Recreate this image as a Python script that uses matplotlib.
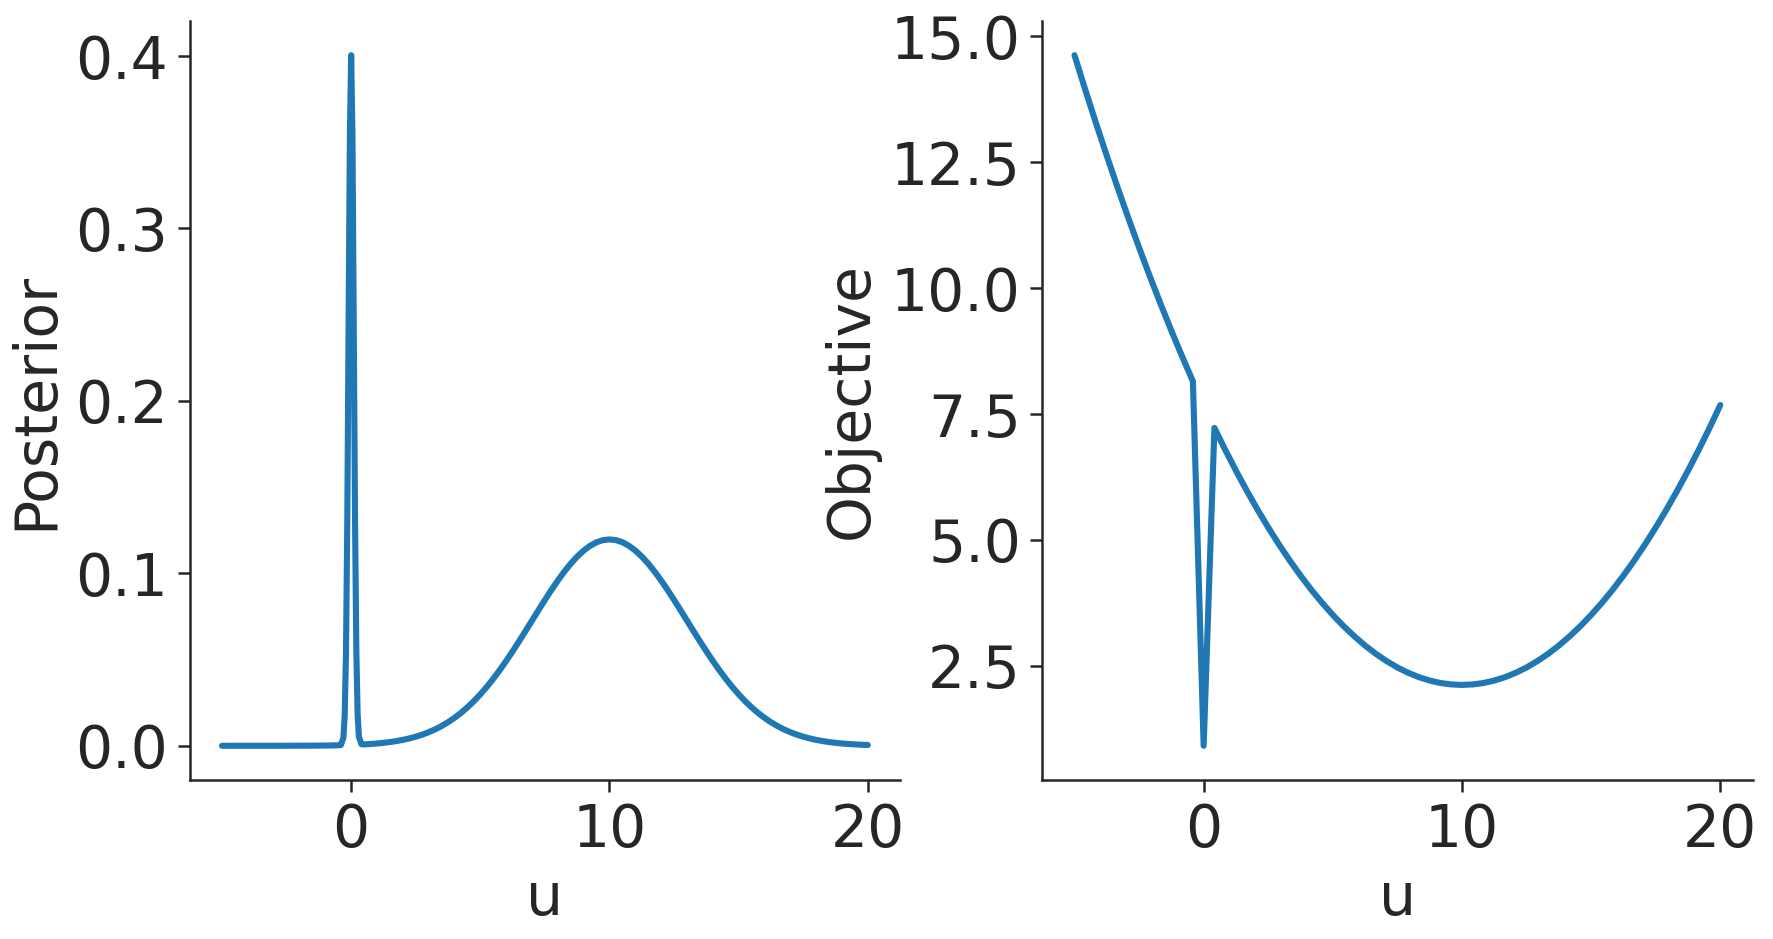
import matplotlib
matplotlib.use("Agg")
import matplotlib.pyplot as plt
import seaborn as sns

sns.set_theme(style="ticks")
plt.rcParams['font.family'] = ['DejaVu Sans']

# left panel: u grid (coarse on the flat tail, fine around the spike, 0.25 over the bump)
u_post = [-5.0, -4.5, -4.0, -3.5, -3.0, -2.5, -2.0, -1.5, -1.0, -0.5,
          -0.4, -0.3, -0.25, -0.2, -0.15, -0.1, -0.05, 0.0, 0.05, 0.1,
          0.15, 0.2, 0.25, 0.3, 0.4, 0.5, 0.75, 1.0, 1.25, 1.5,
          1.75, 2.0, 2.25, 2.5, 2.75, 3.0, 3.25, 3.5, 3.75, 4.0,
          4.25, 4.5, 4.75, 5.0, 5.25, 5.5, 5.75, 6.0, 6.25, 6.5,
          6.75, 7.0, 7.25, 7.5, 7.75, 8.0, 8.25, 8.5, 8.75, 9.0,
          9.25, 9.5, 9.75, 10.0, 10.25, 10.5, 10.75, 11.0, 11.25, 11.5,
          11.75, 12.0, 12.25, 12.5, 12.75, 13.0, 13.25, 13.5, 13.75, 14.0,
          14.25, 14.5, 14.75, 15.0, 15.25, 15.5, 15.75, 16.0, 16.25, 16.5,
          16.75, 17.0, 17.25, 17.5, 17.75, 18.0, 18.25, 18.5, 18.75, 19.0,
          19.25, 19.5, 19.75, 20.0]

posterior = [0.0, 0.000001, 0.000002, 0.000005, 0.00001, 0.00002, 0.00004, 0.000077, 0.000144, 0.00026,
             0.0004, 0.0047, 0.0179, 0.0544, 0.1302, 0.2429, 0.3533, 0.4005, 0.3537, 0.2433,
             0.1306, 0.0549, 0.0183, 0.0051, 0.0009, 0.0008, 0.00103, 0.00133, 0.0017, 0.00216,
             0.00273, 0.00342, 0.00426, 0.00526, 0.00645, 0.00787, 0.00952, 0.01145, 0.01366, 0.0162,
             0.01907, 0.02229, 0.02588, 0.02984, 0.03417, 0.03885, 0.04388, 0.0492, 0.05479, 0.0606,
             0.06656, 0.07259, 0.07862, 0.08457, 0.09034, 0.09583, 0.10096, 0.10562, 0.10973, 0.11321,
             0.116, 0.11803, 0.11927, 0.11968, 0.11927, 0.11803, 0.116, 0.11321, 0.10973, 0.10562,
             0.10096, 0.09583, 0.09034, 0.08457, 0.07862, 0.07259, 0.06656, 0.0606, 0.05479, 0.0492,
             0.04388, 0.03885, 0.03417, 0.02984, 0.02588, 0.02229, 0.01907, 0.0162, 0.01366, 0.01145,
             0.00952, 0.00787, 0.00645, 0.00526, 0.00426, 0.00342, 0.00273, 0.00216, 0.0017, 0.00133,
             0.00103, 0.0008, 0.00061, 0.00046]

# right panel: u grid (61 points over -5..20)
u_obj = [-5.0, -4.5833, -4.1667, -3.75, -3.3333, -2.9167, -2.5, -2.0833, -1.6667, -1.25,
         -0.8333, -0.4167, 0.0, 0.4167, 0.8333, 1.25, 1.6667, 2.0833, 2.5, 2.9167,
         3.3333, 3.75, 4.1667, 4.5833, 5.0, 5.4167, 5.8333, 6.25, 6.6667, 7.0833,
         7.5, 7.9167, 8.3333, 8.75, 9.1667, 9.5833, 10.0, 10.4167, 10.8333, 11.25,
         11.6667, 12.0833, 12.5, 12.9167, 13.3333, 13.75, 14.1667, 14.5833, 15.0, 15.4167,
         15.8333, 16.25, 16.6667, 17.0833, 17.5, 17.9167, 18.3333, 18.75, 19.1667, 19.5833, 20.0]

objective = [14.623, 13.938, 13.273, 12.626, 12.0, 11.392, 10.804, 10.234, 9.685, 9.154,
             8.643, 8.151, 0.915, 7.225, 6.791, 6.376, 5.981, 5.605, 5.248, 4.91,
             4.592, 4.293, 4.013, 3.753, 3.512, 3.29, 3.088, 2.904, 2.74, 2.596,
             2.47, 2.364, 2.277, 2.21, 2.161, 2.133, 2.123, 2.133, 2.161, 2.21,
             2.277, 2.364, 2.47, 2.596, 2.74, 2.904, 3.088, 3.29, 3.512, 3.753,
             4.013, 4.293, 4.592, 4.91, 5.248, 5.605, 5.981, 6.376, 6.791, 7.225, 7.679]

fig, (ax1, ax2) = plt.subplots(1, 2, figsize=(8.865, 4.695), dpi=200)
fig.subplots_adjust(left=0.107, right=0.9885, bottom=0.169, top=0.978, wspace=0.2)

for ax, x, y, lab in [(ax1, u_post, posterior, 'Posterior'), (ax2, u_obj, objective, 'Objective')]:
    ax.plot(x, y, color='#1f77b4', lw=2.2)
    ax.set_xlabel('u', fontsize=21)
    ax.set_ylabel(lab, fontsize=21)
    ax.set_xticks([0, 10, 20])
    ax.tick_params(labelsize=21, length=4.2, width=0.9, color='.15', labelcolor='.15')
    for s in ax.spines.values():
        s.set_linewidth(0.9)
        s.set_color('.15')

ax1.set_yticks([0.0, 0.1, 0.2, 0.3, 0.4])
ax2.set_yticks([2.5, 5.0, 7.5, 10.0, 12.5, 15.0])
sns.despine(fig)

fig.savefig('out.png', dpi=200)
